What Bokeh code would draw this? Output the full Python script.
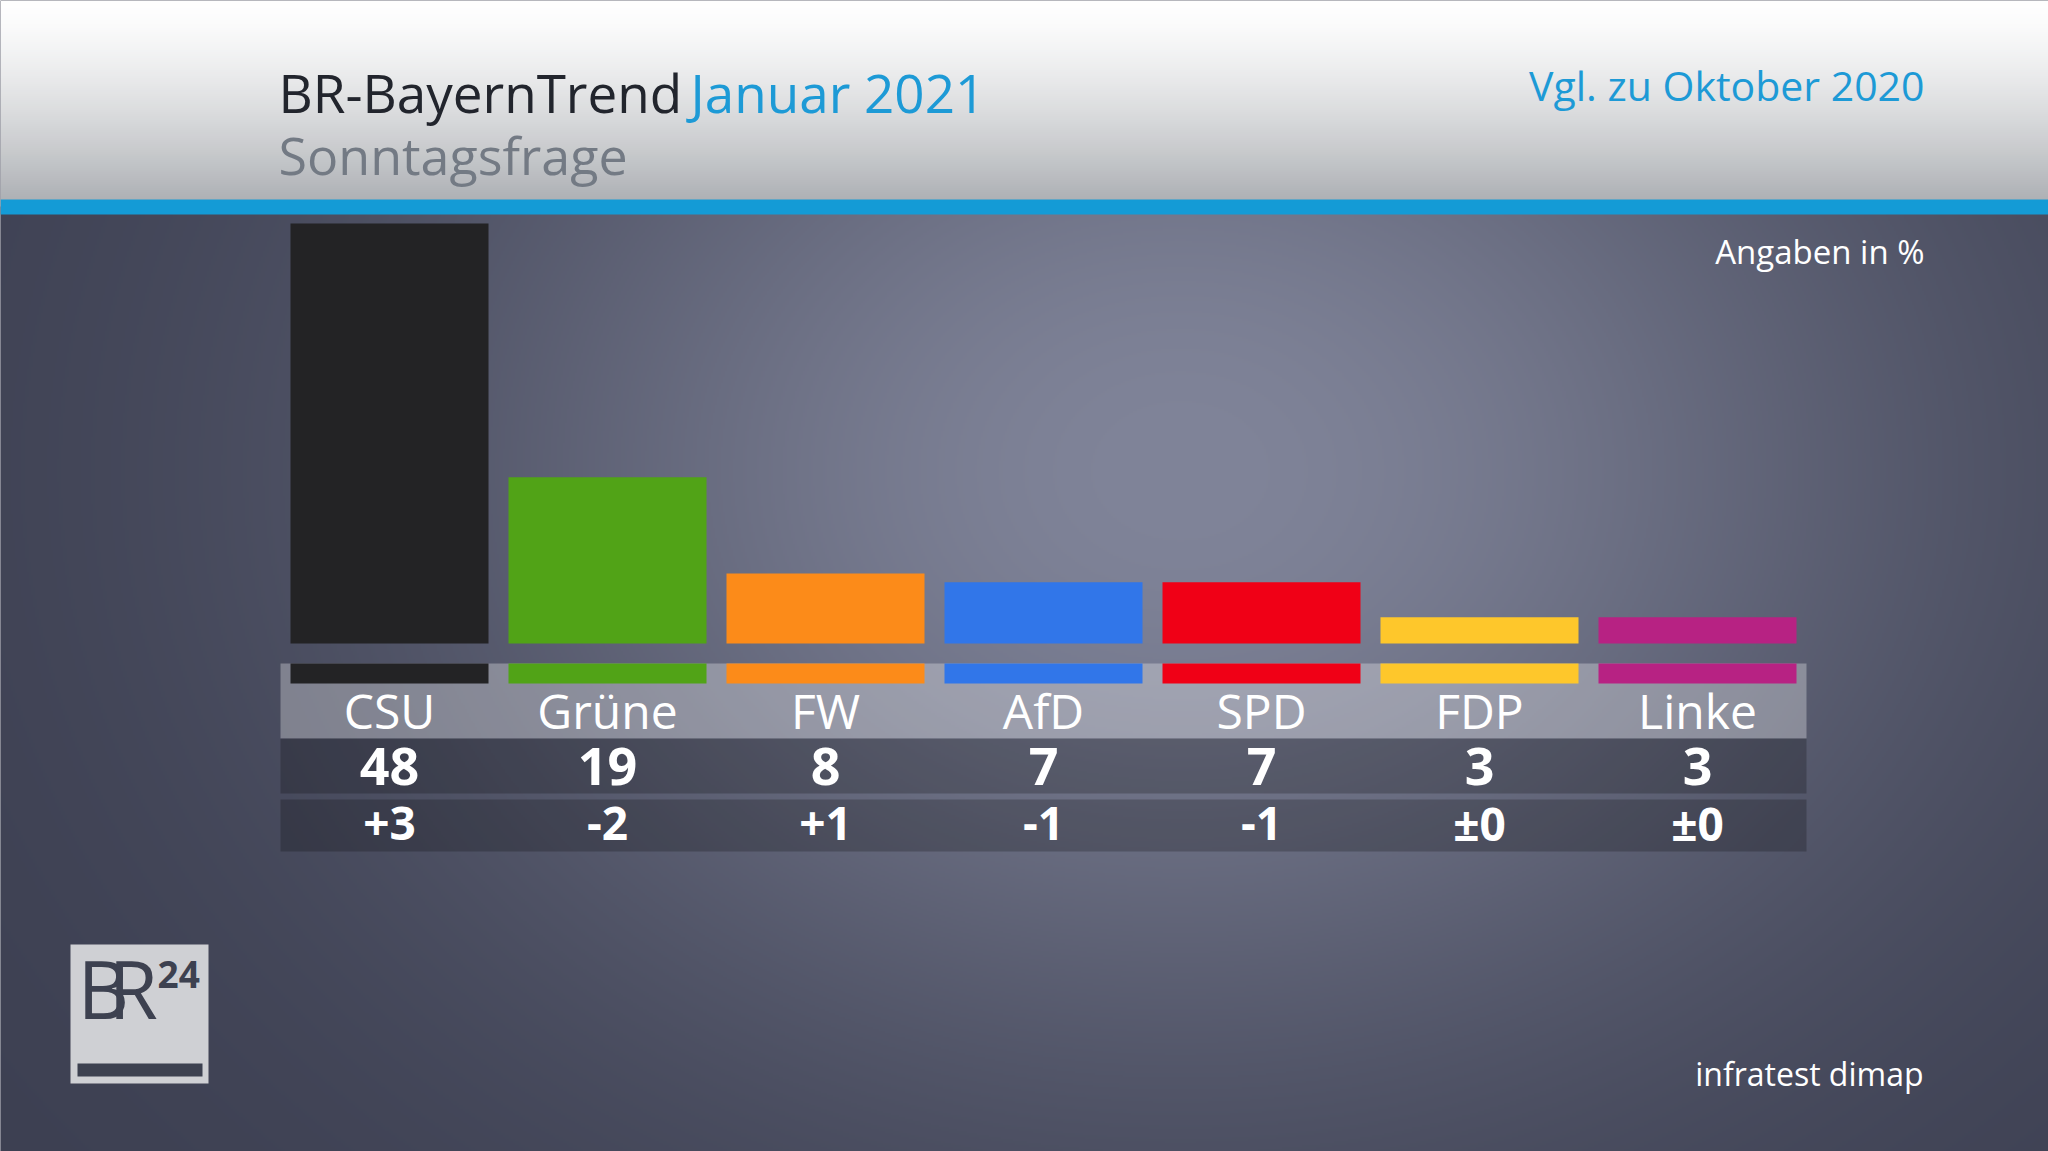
import numpy as np
from bokeh.plotting import figure
from bokeh.models import Range1d, ColumnDataSource
from bokeh.core.properties import value
from bokeh.embed import file_html
from bokeh.resources import INLINE

# ---------------- data ----------------
parties = ["CSU", "Grüne", "FW", "AfD", "SPD", "FDP", "Linke"]
shares = [48, 19, 8, 7, 7, 3, 3]
changes = ["+3", "-2", "+1", "-1", "-1", "±0", "±0"]
party_colors = ["#232325", "#51a317", "#fc8b19", "#3176e9", "#f00016", "#fec72b", "#b72283"]

title_main = "BR-BayernTrend"
title_date = "Januar 2021"
subtitle = "Sonntagsfrage"
compare_label = "Vgl. zu Oktober 2020"
unit_label = "Angaben in %"
source_label = "infratest dimap"

# ---------------- layout constants (reference pixel space) ----------------
W, H = 2048, 1151
FONT = value("Open Sans")
BASE_CORR = 0.37  # empirical baseline correction (fraction of font size)


def Y(v):  # reference y (from top) -> data y (from bottom)
    return H - v


def TY(baseline, fs):  # text y for a wanted baseline
    return H - (baseline - BASE_CORR * fs)


center0, pitch, bar_w = 389.0, 218.0, 198.0
base_y, px_per_pct = 643.0, 420.0 / 48.0

p = figure(width=W, height=H,
           x_range=Range1d(0, W), y_range=Range1d(0, H),
           output_backend="svg", toolbar_location=None, min_border=0)
p.xaxis.visible = False
p.yaxis.visible = False
p.grid.visible = False
p.outline_line_color = None
p.background_fill_color = "#3e4153"
p.border_fill_color = "#3e4153"

cat_start = -center0 / pitch
p.extra_x_ranges = {"cat": Range1d(cat_start, cat_start + W / pitch)}
p.extra_y_ranges = {"pct": Range1d(-(H - base_y) / px_per_pct, base_y / px_per_pct)}

# ---------------- background image ----------------
ih, iw = 576, 1024
ys = (np.arange(ih) + 0.5) * H / ih
xs = (np.arange(iw) + 0.5) * W / iw
XX, YY = np.meshgrid(xs, ys)
d2 = ((XX - 1180) / 1050.0) ** 2 + ((YY - 470) / 820.0) ** 2
t = np.exp(-2.0 * d2)
edge = np.array([60, 63, 81], dtype=float)
cent = np.array([128, 132, 153], dtype=float)
rgb = edge[None, None, :] + (cent - edge)[None, None, :] * t[:, :, None]
hdr = YY < 205
tt = np.clip(YY / 199.0, 0, 1) ** 1.4
hdr_rgb = np.stack([255 - 81 * tt, 255 - 78 * tt, 255 - 74 * tt], axis=-1)
rgb[hdr] = hdr_rgb[hdr]
arr = np.zeros((ih, iw, 4), dtype=np.uint8)
arr[:, :, :3] = np.clip(rgb, 0, 255).astype(np.uint8)
arr[:, :, 3] = 255
img = arr[::-1].copy().view(np.uint32).reshape(ih, iw)
p.image_rgba(image=[img], x=0, y=0, dw=W, dh=H)

# blue stripe
p.quad(left=0, right=W, top=Y(199), bottom=Y(214), fill_color="#149bd6", line_color=None)

# ---------------- table ----------------
n = len(parties)
src = ColumnDataSource(dict(idx=list(range(n)), party=parties, share=shares,
                            share_txt=[str(s) for s in shares], change=changes,
                            color=party_colors))

p.quad(left=-0.5, right=n - 0.5, top=Y(663), bottom=Y(738), x_range_name="cat",
       fill_color="white", fill_alpha=0.30, line_color=None)
p.quad(left=-0.5, right=n - 0.5, top=Y(738), bottom=Y(793), x_range_name="cat",
       fill_color="black", fill_alpha=0.22, line_color=None)
p.quad(left=-0.5, right=n - 0.5, top=Y(799), bottom=Y(851), x_range_name="cat",
       fill_color="black", fill_alpha=0.22, line_color=None)

bw = bar_w / pitch
p.vbar(x="idx", width=bw, top=Y(663), bottom=Y(683), source=src, x_range_name="cat",
       fill_color="color", line_color=None)

# bars
p.vbar(x="idx", width=bw, bottom=0, top="share", source=src, x_range_name="cat",
       y_range_name="pct", fill_color="color", line_color=None)

p.text(x="idx", y=TY(728, 48), text="party", source=src, x_range_name="cat",
       text_align="center", text_baseline="alphabetic", text_font=FONT,
       text_font_size="48px", text_color="white")
p.text(x="idx", y=TY(785, 52), text="share_txt", source=src, x_range_name="cat",
       text_align="center", text_baseline="alphabetic", text_font=FONT,
       text_font_size="52px", text_font_style="bold", text_color="white")
p.text(x="idx", y=TY(840, 46), text="change", source=src, x_range_name="cat",
       text_align="center", text_baseline="alphabetic", text_font=FONT,
       text_font_size="46px", text_font_style="bold", text_color="white")

# ---------------- header texts ----------------
p.text(x=[278], y=[TY(112, 53)], text=[title_main], text_font=FONT, text_font_size="53px",
       text_color="#22252d", text_baseline="alphabetic", text_align="left")
p.text(x=[690], y=[TY(112, 53)], text=[title_date], text_font=FONT, text_font_size="53px",
       text_color="#1d9ad6", text_baseline="alphabetic", text_align="left")
p.text(x=[278], y=[TY(173, 52)], text=[subtitle], text_font=FONT, text_font_size="52px",
       text_color="#737a84", text_baseline="alphabetic", text_align="left")
p.text(x=[1924], y=[TY(100, 41)], text=[compare_label], text_font=FONT, text_font_size="41px",
       text_color="#1d9ad6", text_baseline="alphabetic", text_align="right")
p.text(x=[1924], y=[TY(263, 33)], text=[unit_label], text_font=FONT, text_font_size="33px",
       text_color="white", text_baseline="alphabetic", text_align="right")
p.text(x=[1923], y=[TY(1085, 32)], text=[source_label], text_font=FONT, text_font_size="32px",
       text_color="white", text_baseline="alphabetic", text_align="right")

# ---------------- logo ----------------
p.quad(left=70, right=208, top=Y(944), bottom=Y(1083), fill_color="#cfd0d4", line_color=None)
p.quad(left=77, right=202, top=Y(1063), bottom=Y(1076), fill_color="#3d4150", line_color=None)
p.text(x=[77], y=[TY(1017, 80)], text=["B"], text_font=FONT, text_font_size="80px",
       text_color="#3d4150", text_baseline="alphabetic", text_align="left")
p.text(x=[108], y=[TY(1017, 80)], text=["R"], text_font=FONT, text_font_size="80px",
       text_color="#3d4150", text_baseline="alphabetic", text_align="left")
p.text(x=[157], y=[TY(988, 37)], text=["24"], text_font=FONT, text_font_size="37px",
       text_font_style="bold", text_color="#3d4150", text_baseline="alphabetic",
       text_align="left")

open("out.html", "w").write(file_html(p, INLINE))
